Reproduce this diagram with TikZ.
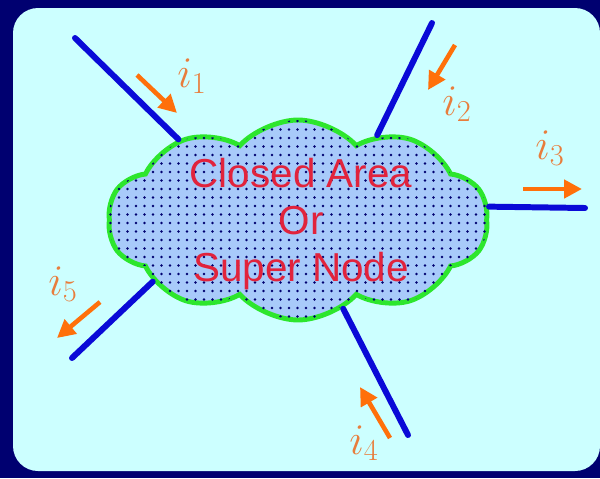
\documentclass[tikz,border=0pt]{standalone}
\usepackage{fontspec}
\newfontfamily\cloudfont{Liberation Sans}
\usetikzlibrary{shapes.symbols,arrows.meta,patterns.meta}
\definecolor{frame}{RGB}{0,0,112}
\definecolor{panel}{RGB}{204,255,255}
\definecolor{cloudfill}{RGB}{168,202,250}
\definecolor{cloudedge}{RGB}{45,230,45}
\definecolor{wireblue}{RGB}{10,10,215}
\definecolor{currentorange}{RGB}{255,112,10}
\definecolor{labeltext}{RGB}{232,125,60}
\definecolor{nodetext}{RGB}{225,35,60}

\begin{document}
\begin{tikzpicture}[
    x=0.2mm, y=-0.2mm,
    supernode/.style={
        cloud, cloud puffs=10, cloud puff arc=95, cloud ignores aspect,
        minimum width=76mm, minimum height=40mm, inner sep=0pt,
        fill=cloudfill, draw=cloudedge, line width=2.8pt,
        postaction={pattern={Dots[distance=1.7mm, radius=0.28mm]}, pattern color=frame}
    },
    supertext/.style={
        text=nodetext, align=center,
        font=\cloudfont\fontsize{23}{26.6}\selectfont
    },
    wirestyle/.style={
        draw=wireblue, line width=3.4pt, line cap=round
    },
    current/.style={
        -{Triangle[length=3.6mm, width=3.6mm]},
        draw=currentorange, line width=2.6pt
    },
    curlabel/.style={
        text=labeltext,
        font=\fontsize{25}{30}\selectfont
    }
]
\useasboundingbox (0,0) rectangle (600,478);

% Background and panel
\fill[frame] (0,0) rectangle (600,478);
\fill[panel, rounded corners=5mm] (13,8) rectangle (600,471);

% Super node
\node[supernode] (super) at (298,220) {};
\node[supertext] (supername) at (301,224) {Closed Area\\Or\\Super Node};

% Free wire ends
\coordinate (end1) at (75,38);
\coordinate (end2) at (432,23);
\coordinate (end3) at (585,208);
\coordinate (end4) at (408,435);
\coordinate (end5) at (72,358);

% Wires
\draw[wirestyle] (end1) -- (super.146);
\draw[wirestyle] (end2) -- (super.47);
\draw[wirestyle] (end3) -- (super.4);
\draw[wirestyle] (end4) -- (super.297);
\draw[wirestyle] (end5) -- (super.203);

% Currents
\coordinate (c1from) at (137,75);
\coordinate (c1to) at (177,113);
\coordinate (c2from) at (455,45);
\coordinate (c2to) at (428,90);
\coordinate (c3from) at (523,189);
\coordinate (c3to) at (582,189);
\coordinate (c4from) at (390,438);
\coordinate (c4to) at (360,387);
\coordinate (c5from) at (100,302);
\coordinate (c5to) at (57,338);

\draw[current] (c1from) -- (c1to);
\draw[current] (c2from) -- (c2to);
\draw[current] (c3from) -- (c3to);
\draw[current] (c4from) -- (c4to);
\draw[current] (c5from) -- (c5to);

% Labels
\node[curlabel] (lbl1) at (192,76) {$i_1$};
\node[curlabel] (lbl2) at (457,104) {$i_2$};
\node[curlabel] (lbl3) at (550,148) {$i_3$};
\node[curlabel] (lbl4) at (364,443) {$i_4$};
\node[curlabel] (lbl5) at (63,284) {$i_5$};

\end{tikzpicture}
\end{document}
